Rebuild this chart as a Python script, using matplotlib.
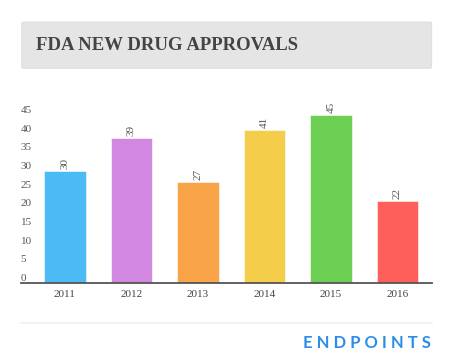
import numpy as np
import matplotlib.pyplot as plt
from matplotlib.patches import FancyBboxPatch

years = ['2011', '2012', '2013', '2014', '2015', '2016']
approvals = [30, 39, 27, 41, 45, 22]
bar_colors = ['#4bbaf5', '#d288e0', '#f9a448', '#f4cd4a', '#6ecf55', '#fe5f5a']
y_ticks = [0, 5, 10, 15, 20, 25, 30, 35, 40, 45]

serif = 'Liberation Serif'

fig = plt.figure(figsize=(4.53, 3.64), dpi=100)
fig.patch.set_facecolor('white')

# title banner
box = FancyBboxPatch((21.7 / 453, 1 - 68.3 / 364), 410 / 453, 46.3 / 364,
                     boxstyle='round,pad=0,rounding_size=0.004',
                     transform=fig.transFigure, facecolor='#e5e5e5',
                     edgecolor='#dcdcdc', linewidth=0.6)
fig.patches.append(box)
fig.text(36 / 453, 1 - 46 / 364, 'FDA NEW DRUG APPROVALS', family=serif,
         fontweight='bold', fontsize=13.5, color='#444444', va='center', ha='left')

ax = fig.add_axes([20.7 / 453, 81.3 / 364, 411 / 453, 167.4 / 364])
x = np.arange(len(years))
bars = ax.bar(x, approvals, width=0.62, color=bar_colors,
              edgecolor='white', linewidth=0.4)
ax.bar_label(bars, labels=[str(v) for v in approvals], rotation=90, padding=1.5,
             fontsize=8, family=serif, color='#555555')

ax.set_xlim(-0.666, 5.514)
ax.set_ylim(0, 45)
ax.set_xticks(x)
ax.set_xticklabels(years, family=serif, fontsize=8, color='#444444')
ax.set_yticks(y_ticks)
ax.set_yticklabels([str(t) for t in y_ticks], family=serif, fontsize=8, color='#555555')
for lab in ax.get_yticklabels():
    lab.set_ha('left')
    lab.set_va('bottom')
ax.tick_params(axis='y', length=0, pad=0)
ax.tick_params(axis='x', length=0, pad=5)
for s in ['top', 'right', 'left']:
    ax.spines[s].set_visible(False)
ax.spines['bottom'].set_color('#555555')
ax.spines['bottom'].set_linewidth(1.3)

# footer
fig.add_artist(plt.Line2D([21 / 453, 432 / 453], [1 - 322.7 / 364] * 2,
                          transform=fig.transFigure, color='#f0f0f0', linewidth=1.2))
fig.text(431 / 453, 1 - 343 / 364, 'E N D P O I N T S', family='Lato',
         fontsize=12, fontweight='bold', color='#2a8ee8', ha='right', va='center')

fig.savefig('out.png', dpi=100)
